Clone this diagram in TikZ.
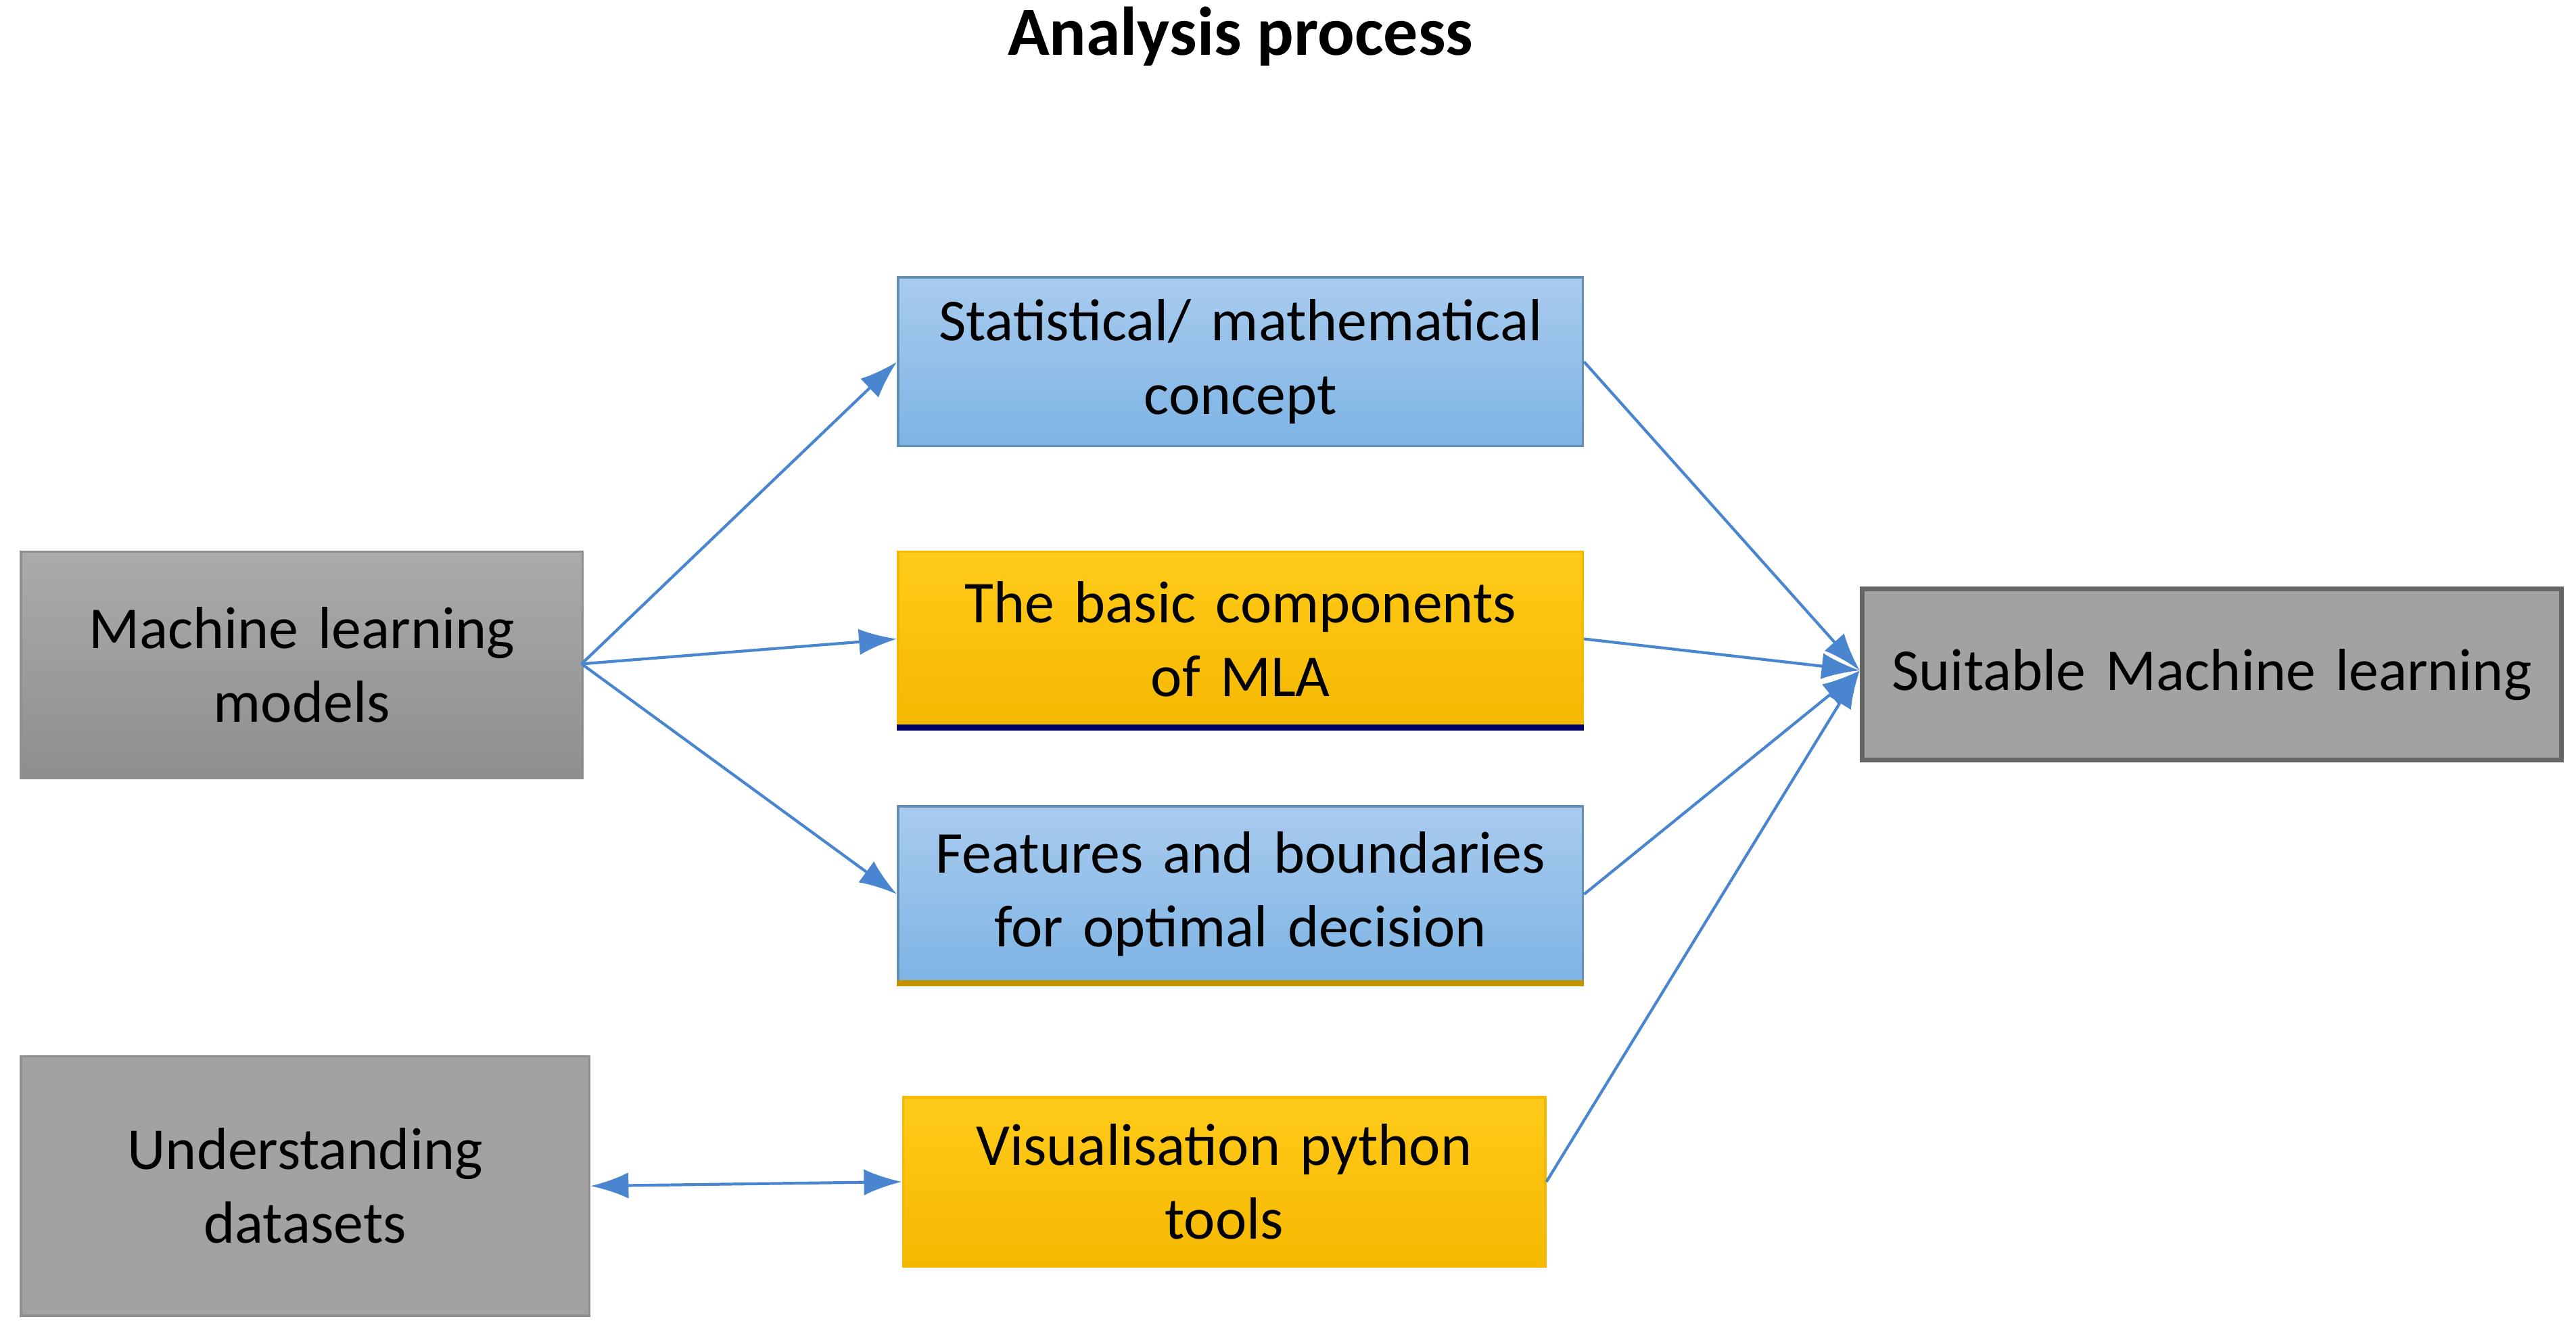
\documentclass[tikz,border=0pt]{standalone}
\usepackage{fontspec}
\setmainfont{Carlito}
\usetikzlibrary{arrows.meta}
\definecolor{ln}{HTML}{4A86D0}
\definecolor{blueT}{HTML}{A9CBEE}
\definecolor{blueB}{HTML}{7DB4E4}
\definecolor{orT}{HTML}{FFCB1A}
\definecolor{orB}{HTML}{F5B800}
\definecolor{grT}{HTML}{ABABAB}
\definecolor{grB}{HTML}{8E8E8E}
\begin{document}
\begin{tikzpicture}[x=0.0243cm,y=-0.0243cm,
  box/.style={draw, align=center, inner sep=0pt, font=\fontsize{25pt}{31pt}\selectfont, text=black, anchor=north west, line width=1pt},
  blue/.style={box, top color=blueT, bottom color=blueB, draw=blueB!80!black},
  orng/.style={box, top color=orT, bottom color=orB, draw=orB},
  gray/.style={box, top color=grT, bottom color=grB, draw=grB},
  con/.style={draw=ln, line width=1.2pt, -{Latex[length=16pt,width=11pt]}}]
\useasboundingbox (0,0) rectangle (1568,811.4);
\node[font=\fontsize{29pt}{34pt}\selectfont\bfseries] (title) at (755,22) {Analysis process};
\node[gray, text width=7.8cm, minimum width=8.31cm, minimum height=3.35cm] (ml) at (12,335) {Machine learning\\models};
\node[box, fill=grT!95!black, draw=grB, text width=8cm, minimum width=8.41cm, minimum height=3.84cm] (ud) at (12,642) {Understanding\\datasets};
\node[blue, text width=9.8cm, minimum width=10.13cm, minimum height=2.5cm] (st) at (546,168) {Statistical/ mathematical\\concept};
\node[orng, text width=9.8cm, minimum width=10.13cm, minimum height=2.58cm] (bc) at (546,335) {The basic components\\of MLA};
\draw[line width=2.5pt, draw=black!60!blue] (bc.south west) -- (bc.south east);
\node[blue, text width=9.8cm, minimum width=10.13cm, minimum height=2.6cm] (fb) at (546,490) {Features and boundaries\\for optimal decision};
\draw[line width=2.5pt, draw=orB!80!black] (fb.south west) -- (fb.south east);
\node[orng, text width=9.2cm, minimum width=9.5cm, minimum height=2.5cm] (vp) at (549,667) {Visualisation python\\tools};
\node[box, fill=grT!95!black, draw=black!60, line width=2pt, text width=10cm, minimum width=10.35cm, minimum height=2.53cm] (sm) at (1132,357) {Suitable Machine learning};
\coordinate (mlr) at (354,404);
\coordinate (smL) at (1132,408);
\draw[con] (mlr) -- (st.west);
\draw[con] (mlr) -- (bc.west);
\draw[con] (mlr) -- (fb.west);
\draw[con] (st.east) -- (smL);
\draw[con] (bc.east) -- (smL);
\draw[con] (fb.east) -- (smL);
\draw[con] (vp.east) -- (smL);
\draw[con, {Latex[length=16pt,width=11pt]}-{Latex[length=16pt,width=11pt]}] (ud.east) -- (vp.west);
\end{tikzpicture}
\end{document}
